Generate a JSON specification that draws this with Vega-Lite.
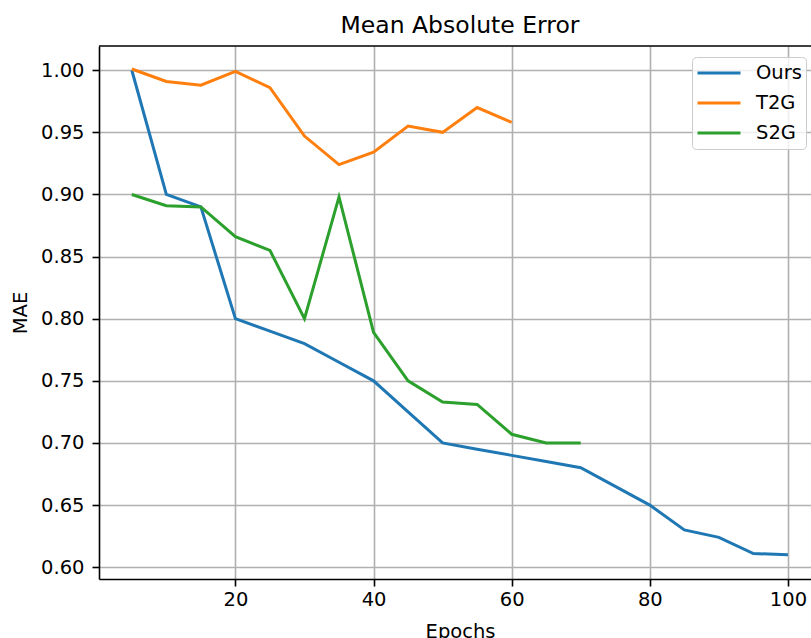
{
  "$schema": "https://vega.github.io/schema/vega-lite/v6.json",
  "width": 712,
  "height": 533,
  "autosize": {"type": "none"},
  "padding": {"left": 99, "top": 46, "right": 0, "bottom": 59},
  "background": "white",
  "config": {"view": {"stroke": null}, "font": "DejaVu Sans"},
  "title": {"text": "Mean Absolute Error", "fontSize": 23.5, "font": "DejaVu Sans", "fontWeight": "normal", "color": "black", "offset": 8, "dx": 5, "frame": "group", "anchor": "middle"},
  "data": {"values": [
    {"epoch": 5, "mae": 1.0, "method": "Ours"},
    {"epoch": 10, "mae": 0.9, "method": "Ours"},
    {"epoch": 15, "mae": 0.89, "method": "Ours"},
    {"epoch": 20, "mae": 0.8, "method": "Ours"},
    {"epoch": 25, "mae": 0.79, "method": "Ours"},
    {"epoch": 30, "mae": 0.78, "method": "Ours"},
    {"epoch": 35, "mae": 0.765, "method": "Ours"},
    {"epoch": 40, "mae": 0.75, "method": "Ours"},
    {"epoch": 45, "mae": 0.725, "method": "Ours"},
    {"epoch": 50, "mae": 0.7, "method": "Ours"},
    {"epoch": 55, "mae": 0.695, "method": "Ours"},
    {"epoch": 60, "mae": 0.69, "method": "Ours"},
    {"epoch": 65, "mae": 0.685, "method": "Ours"},
    {"epoch": 70, "mae": 0.68, "method": "Ours"},
    {"epoch": 75, "mae": 0.665, "method": "Ours"},
    {"epoch": 80, "mae": 0.65, "method": "Ours"},
    {"epoch": 85, "mae": 0.63, "method": "Ours"},
    {"epoch": 90, "mae": 0.624, "method": "Ours"},
    {"epoch": 95, "mae": 0.611, "method": "Ours"},
    {"epoch": 100, "mae": 0.61, "method": "Ours"},
    {"epoch": 5, "mae": 1.001, "method": "T2G"},
    {"epoch": 10, "mae": 0.991, "method": "T2G"},
    {"epoch": 15, "mae": 0.988, "method": "T2G"},
    {"epoch": 20, "mae": 0.999, "method": "T2G"},
    {"epoch": 25, "mae": 0.986, "method": "T2G"},
    {"epoch": 30, "mae": 0.947, "method": "T2G"},
    {"epoch": 35, "mae": 0.924, "method": "T2G"},
    {"epoch": 40, "mae": 0.934, "method": "T2G"},
    {"epoch": 45, "mae": 0.955, "method": "T2G"},
    {"epoch": 50, "mae": 0.95, "method": "T2G"},
    {"epoch": 55, "mae": 0.97, "method": "T2G"},
    {"epoch": 60, "mae": 0.958, "method": "T2G"},
    {"epoch": 5, "mae": 0.9, "method": "S2G"},
    {"epoch": 10, "mae": 0.891, "method": "S2G"},
    {"epoch": 15, "mae": 0.89, "method": "S2G"},
    {"epoch": 20, "mae": 0.866, "method": "S2G"},
    {"epoch": 25, "mae": 0.855, "method": "S2G"},
    {"epoch": 30, "mae": 0.8, "method": "S2G"},
    {"epoch": 35, "mae": 0.898, "method": "S2G"},
    {"epoch": 40, "mae": 0.789, "method": "S2G"},
    {"epoch": 45, "mae": 0.75, "method": "S2G"},
    {"epoch": 50, "mae": 0.733, "method": "S2G"},
    {"epoch": 55, "mae": 0.731, "method": "S2G"},
    {"epoch": 60, "mae": 0.707, "method": "S2G"},
    {"epoch": 65, "mae": 0.7, "method": "S2G"},
    {"epoch": 70, "mae": 0.7, "method": "S2G"}
  ]},
  "layer": [
    {
      "mark": {"type": "line", "strokeWidth": 3},
      "encoding": {
        "x": {"field": "epoch", "type": "quantitative",
          "scale": {"domain": [0.25, 103.34], "nice": false, "zero": false},
          "axis": {"values": [20, 40, 60, 80, 100], "format": "d", "title": "Epochs",
            "titleFontSize": 19.5, "titleFontWeight": "normal", "titleColor": "black", "titleFont": "DejaVu Sans",
            "titleX": 361, "titleY": 58, "titleBaseline": "alphabetic", "titleAlign": "center",
            "labelFontSize": 19.5, "labelColor": "black", "labelFont": "DejaVu Sans", "labelPadding": 4, "labelFlush": false, "labelOverlap": false,
            "tickSize": 7, "tickWidth": 1.6, "tickColor": "black",
            "domainColor": "black", "domainWidth": 1.6,
            "grid": true, "gridColor": "#b0b0b0", "gridWidth": 1.6}},
        "y": {"field": "mae", "type": "quantitative",
          "scale": {"domain": [0.5905, 1.0195], "nice": false, "zero": false},
          "axis": {"values": [0.6, 0.65, 0.7, 0.75, 0.8, 0.85, 0.9, 0.95, 1.0], "format": ".2f", "title": "MAE",
            "titleFontSize": 19.5, "titleFontWeight": "normal", "titleColor": "black", "titleFont": "DejaVu Sans",
            "titleX": -78.5, "titleY": 266.5, "titleAngle": 270, "titleBaseline": "middle", "titleAlign": "center",
            "labelFontSize": 19.5, "labelColor": "black", "labelFont": "DejaVu Sans", "labelPadding": 8, "labelFlush": false, "labelOverlap": false,
            "tickSize": 7, "tickWidth": 1.6, "tickColor": "black",
            "domainColor": "black", "domainWidth": 1.6,
            "grid": true, "gridColor": "#b0b0b0", "gridWidth": 1.6}},
        "color": {"field": "method", "type": "nominal",
          "scale": {"domain": ["Ours", "T2G", "S2G"], "range": ["#1f77b4", "#ff7f0e", "#2ca02c"]},
          "legend": {"orient": "none", "legendX": 593, "legendY": 11, "title": null,
            "symbolType": "stroke", "symbolSize": 1849, "symbolStrokeWidth": 3,
            "labelFontSize": 19.5, "labelFont": "DejaVu Sans", "labelColor": "black",
            "fillColor": "rgba(255,255,255,0.8)", "strokeColor": "#cccccc", "cornerRadius": 4,
            "padding": 4, "rowPadding": 6, "clipHeight": 24, "labelOffset": 14}}
      }
    },
    {
      "data": {"values": [{}]},
      "mark": {"type": "rule", "color": "black", "strokeWidth": 1.6},
      "encoding": {"y": {"datum": 1.0195, "type": "quantitative"}}
    }
  ]
}
